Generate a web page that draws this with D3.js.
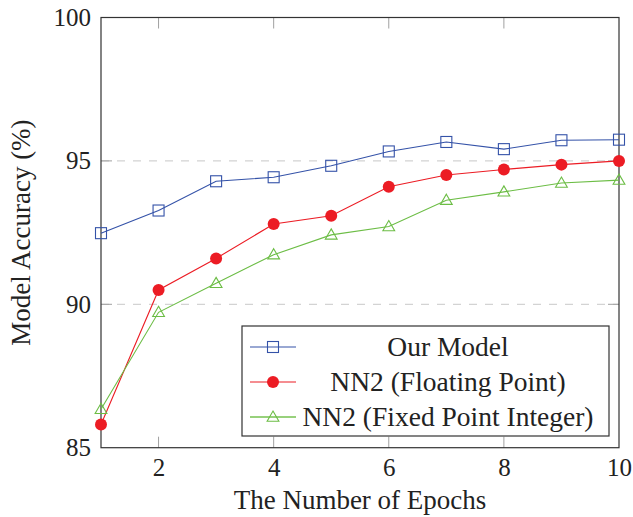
<!DOCTYPE html>
<html>
<head>
<meta charset="utf-8">
<script src="https://cdn.jsdelivr.net/npm/d3@7"></script>
<style>
  body { margin: 0; background: #fff; }
</style>
</head>
<body>
<div id="chart"></div>
<script>
let width = 633;
let height = 517;
let margin = ({top: 17.5, right: 14, bottom: 69.3, left: 101});

// data
let epochs = [1, 2, 3, 4, 5, 6, 7, 8, 9, 10];
let ourModel = [92.48, 93.27, 94.29, 94.43, 94.83, 95.33, 95.66, 95.41, 95.72, 95.74];
let nn2Float = [85.81, 90.5, 91.6, 92.8, 93.09, 94.1, 94.51, 94.7, 94.87, 95.0];
let nn2Fixed = [86.34, 89.72, 90.73, 91.73, 92.42, 92.71, 93.63, 93.92, 94.23, 94.33];
let seriesNames = ["Our Model", "NN2 (Floating Point)", "NN2 (Fixed Point Integer)"];
let xTicks = [2, 4, 6, 8, 10];
let yTicks = [85, 90, 95, 100];

let series = [
    {name: seriesNames[0], values: ourModel, color: "#3452a8", mark: "square"},
    {name: seriesNames[1], values: nn2Float, color: "#ec1c24", mark: "circle"},
    {name: seriesNames[2], values: nn2Fixed, color: "#6cbd45", mark: "triangle"}
];

let fontName = "Liberation Serif";
let textColor = "#222";

let svg = d3.select("#chart").append("svg")
    .attr("width", width)
    .attr("height", height)
    .attr("font-family", fontName);

let x = d3.scaleLinear().domain([1, 10]).range([margin.left, width - margin.right]);
let y = d3.scaleLinear().domain([85, 100]).range([height - margin.bottom, margin.top]);

// dashed grid at inner y ticks
svg.append("g").selectAll("line")
    .data([90, 95])
    .join("line")
    .attr("x1", x(1)).attr("x2", x(10))
    .attr("y1", d => y(d)).attr("y2", d => y(d))
    .attr("stroke", "#c8c8c8")
    .attr("stroke-width", 1)
    .attr("stroke-dasharray", "8,8");

// inner tick marks (all four sides)
let tickLen = 11;
let tickG = svg.append("g").attr("stroke", "#a0a0a0").attr("stroke-width", 1);
[2, 4, 6, 8].forEach(function(t) {
    tickG.append("line").attr("x1", x(t)).attr("x2", x(t)).attr("y1", y(85)).attr("y2", y(85) - tickLen);
    tickG.append("line").attr("x1", x(t)).attr("x2", x(t)).attr("y1", y(100)).attr("y2", y(100) + tickLen);
});
[90, 95].forEach(function(t) {
    tickG.append("line").attr("x1", x(1)).attr("x2", x(1) + tickLen).attr("y1", y(t)).attr("y2", y(t));
    tickG.append("line").attr("x1", x(10)).attr("x2", x(10) - tickLen).attr("y1", y(t)).attr("y2", y(t));
});

// frame
svg.append("rect")
    .attr("x", x(1)).attr("y", y(100))
    .attr("width", x(10) - x(1)).attr("height", y(85) - y(100))
    .attr("fill", "none")
    .attr("stroke", "#333")
    .attr("stroke-width", 1.2);

// tick labels through d3 axes (domain removed, frame drawn above)
let xAxis = d3.axisBottom(x).tickValues(xTicks).tickSize(0).tickPadding(11);
svg.append("g")
    .attr("transform", "translate(0," + y(85) + ")")
    .call(xAxis)
    .attr("font-family", fontName)
    .attr("font-size", 25)
    .call(g => g.select(".domain").remove())
    .selectAll("text")
    .attr("fill", textColor);

let yAxis = d3.axisLeft(y).tickValues(yTicks).tickSize(0).tickPadding(10);
svg.append("g")
    .attr("transform", "translate(" + x(1) + ",0)")
    .call(yAxis)
    .attr("font-family", fontName)
    .attr("font-size", 25)
    .call(g => g.select(".domain").remove())
    .selectAll("text")
    .attr("fill", textColor);

svg.append("text")
    .attr("x", (x(1) + x(10)) / 2)
    .attr("y", 509)
    .attr("text-anchor", "middle")
    .attr("font-family", fontName)
    .attr("font-size", 27)
    .attr("fill", textColor)
    .text("The Number of Epochs");

svg.append("text")
    .attr("transform", "translate(30," + ((y(85) + y(100)) / 2) + ") rotate(-90)")
    .attr("text-anchor", "middle")
    .attr("font-family", fontName)
    .attr("font-size", 27)
    .attr("fill", textColor)
    .text("Model Accuracy (%)");

// markers
function drawMark(g, type, cx, cy, color) {
    if (type === "square") {
        g.append("rect").attr("x", cx - 5.5).attr("y", cy - 5.5).attr("width", 11).attr("height", 11)
            .attr("fill", "none").attr("stroke", color).attr("stroke-width", 1.1);
    } else if (type === "circle") {
        g.append("circle").attr("cx", cx).attr("cy", cy).attr("r", 6).attr("fill", color);
    } else {
        g.append("path")
            .attr("d", d3.symbol().type(d3.symbolTriangle).size(60)())
            .attr("transform", "translate(" + cx + "," + (cy + 0.8) + ")")
            .attr("fill", "none").attr("stroke", color).attr("stroke-width", 1.1);
    }
}

let line = d3.line().x((d, i) => x(epochs[i])).y(d => y(d));

series.forEach(function(s) {
    let g = svg.append("g");
    g.append("path")
        .datum(s.values)
        .attr("d", line)
        .attr("fill", "none")
        .attr("stroke", s.color)
        .attr("stroke-width", 1.1);
    s.values.forEach((v, i) => drawMark(g, s.mark, x(epochs[i]), y(v), s.color));
});

// legend
let legend = svg.append("g");
legend.append("rect")
    .attr("x", 242).attr("y", 326)
    .attr("width", 367).attr("height", 110)
    .attr("fill", "#fff")
    .attr("stroke", "#333")
    .attr("stroke-width", 1.2);

series.forEach(function(s, i) {
    let cy = 347 + i * 35;
    legend.append("line")
        .attr("x1", 250).attr("x2", 296)
        .attr("y1", cy).attr("y2", cy)
        .attr("stroke", s.color)
        .attr("stroke-opacity", i === 2 ? 0.7 : 1)
        .attr("stroke-width", i === 2 ? 2 : 1.1);
    drawMark(legend, s.mark, 273, cy, s.color);
    legend.append("text")
        .attr("x", 448)
        .attr("y", cy + 9)
        .attr("text-anchor", "middle")
        .attr("font-family", fontName)
        .attr("font-size", 27.5)
        .attr("fill", textColor)
        .text(s.name);
});
</script>
</body>
</html>
